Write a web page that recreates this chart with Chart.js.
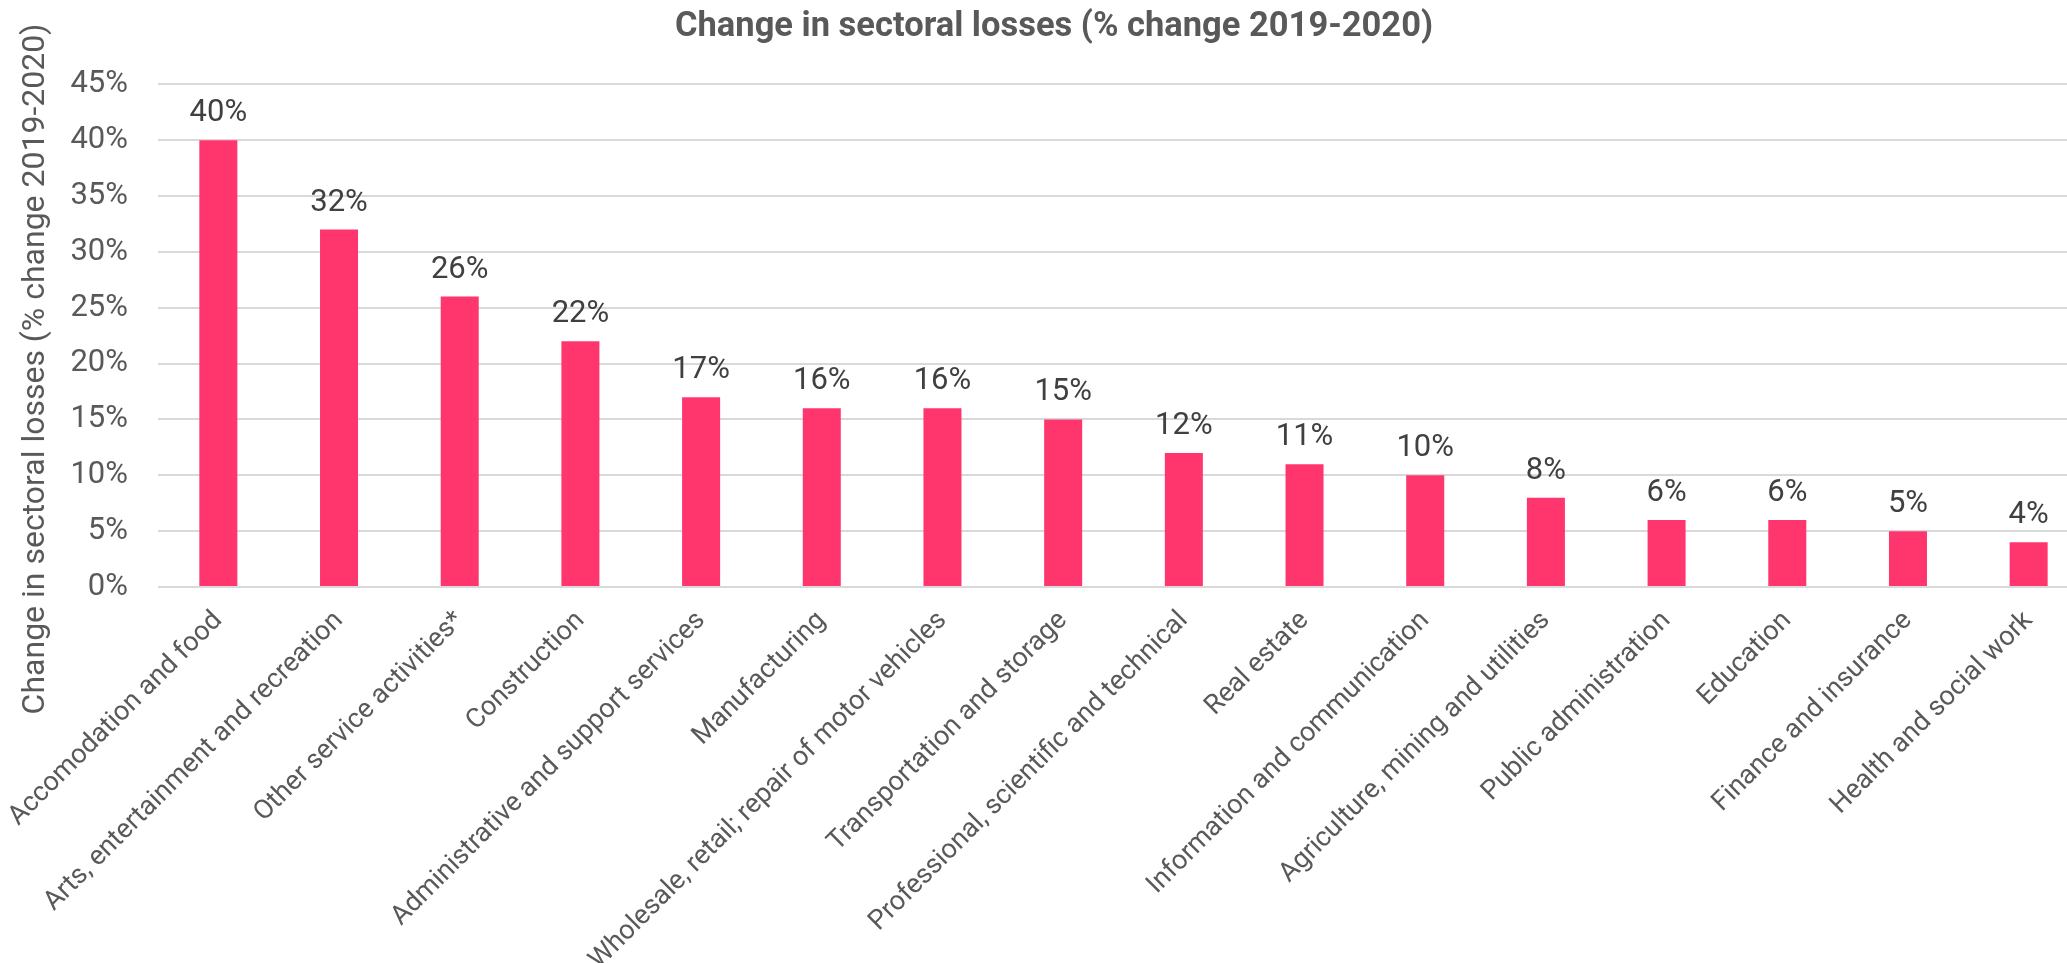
<!DOCTYPE html>
<html>
<head>
<meta charset="utf-8">
<title>Change in sectoral losses</title>
<script src="https://cdn.jsdelivr.net/npm/chart.js@4"></script>
<style>
    html, body { margin: 0; padding: 0; overflow: hidden; background: #ffffff; }
    #wrap { width: 2108px; height: 963px; }
</style>
</head>
<body>
<div id="wrap"><canvas id="chartLosses" width="2108" height="963"></canvas></div>
<script>
const sectors = [
    "Accomodation and food",
    "Arts, entertainment and recreation",
    "Other service activities*",
    "Construction",
    "Administrative and support services",
    "Manufacturing",
    "Wholesale, retail; repair of motor vehicles",
    "Transportation and storage",
    "Professional, scientific and technical",
    "Real estate",
    "Information and communication",
    "Agriculture, mining and utilities",
    "Public administration",
    "Education",
    "Finance and insurance",
    "Health and social work"
];
const lossChange = [40, 32, 26, 22, 17, 16, 16, 15, 12, 11, 10, 8, 6, 6, 5, 4];
const yMax = 45;
const yStep = 5;
const chartTitle = "Change in sectoral losses (% change 2019-2020)";
const yAxisLabel = "Change in sectoral losses (% change 2019-2020)";

const barColor = "#ff366e";
const gridColor = "#d9d9d9";
const textGray = "#595959";
const labelDark = "#404040";

/*
    Writes the value above each bar
*/
const valueLabels = {
    id: "valueLabels",
    afterDatasetsDraw(chart) {
        const ctx = chart.ctx;
        const meta = chart.getDatasetMeta(0);
        ctx.save();
        ctx.font = "31px Roboto";
        ctx.fillStyle = labelDark;
        ctx.textAlign = "center";
        ctx.textBaseline = "alphabetic";
        meta.data.forEach((bar, i) => {
            ctx.fillText(lossChange[i] + "%", bar.x, bar.y - 19);
        });
        ctx.restore();
    }
};

/*
    Vertical axis title, placed by hand so it can sit lower than the axis centre
*/
const sideTitle = {
    id: "sideTitle",
    afterDraw(chart) {
        const ctx = chart.ctx;
        ctx.save();
        ctx.translate(36, 369);
        ctx.rotate(-Math.PI / 2);
        ctx.font = "32px Roboto";
        ctx.fillStyle = textGray;
        ctx.textAlign = "center";
        ctx.textBaseline = "middle";
        ctx.fillText(yAxisLabel, 0, 0);
        ctx.restore();
    }
};

function setChart() {
    const ctx = document.getElementById("chartLosses");
    new Chart(ctx, {
        type: "bar",
        data: {
            labels: sectors,
            datasets: [{
                data: lossChange,
                backgroundColor: barColor,
                borderWidth: 0,
                categoryPercentage: 1,
                barPercentage: 0.315
            }]
        },
        options: {
            responsive: false,
            animation: false,
            devicePixelRatio: 1,
            layout: {
                padding: 0
            },
            plugins: {
                legend: { display: false },
                tooltip: { enabled: false },
                title: {
                    display: true,
                    text: chartTitle,
                    color: textGray,
                    font: { family: "Roboto", size: 34.5, weight: "bold" },
                    padding: { top: 7, bottom: 36 }
                }
            },
            scales: {
                x: {
                    grid: { display: false, drawTicks: false },
                    border: { display: false },
                    ticks: {
                        autoSkip: false,
                        minRotation: 45,
                        maxRotation: 45,
                        padding: 18,
                        color: textGray,
                        font: { family: "Roboto", size: 27 }
                    },
                    afterFit: (scale) => {
                        // long first label may hang under the y axis, don't let it push the plot
                        scale.height = 376;
                        scale.paddingLeft = 0;
                        scale.paddingRight = 0;
                    }
                },
                y: {
                    min: 0,
                    max: yMax,
                    grid: { color: gridColor, lineWidth: 2, drawTicks: false },
                    border: { display: false },
                    ticks: {
                        stepSize: yStep,
                        padding: 30,
                        color: textGray,
                        font: { family: "Roboto", size: 31 },
                        callback: (v) => v + "%"
                    },
                    afterFit: (scale) => { scale.width = 158; }
                },
                // empty strip on the right so the plot stops short of the title box edge
                yRight: {
                    position: "right",
                    grid: { display: false, drawTicks: false },
                    border: { display: false },
                    ticks: { display: false },
                    afterFit: (scale) => { scale.width = 19; }
                }
            }
        },
        plugins: [valueLabels, sideTitle]
    });
}

setChart();
</script>
</body>
</html>
